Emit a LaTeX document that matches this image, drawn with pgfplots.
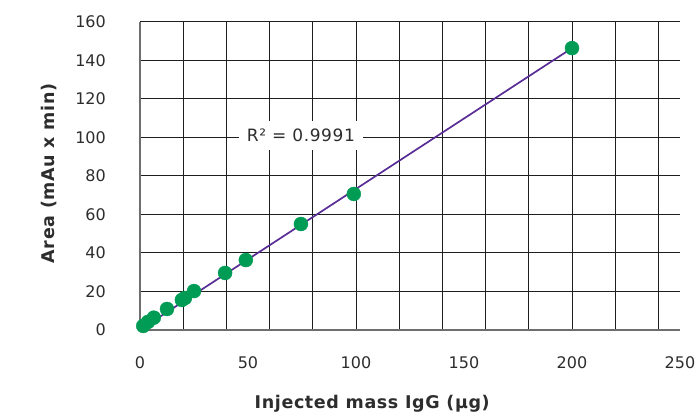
\documentclass[border=0pt]{standalone}
\usepackage{fontspec}
\setmainfont{DejaVu Sans}
\newfontfamily\widefont{DejaVu Sans}[LetterSpace=3.5]
\usepackage{pgfplots}
\pgfplotsset{compat=1.18}
\definecolor{dotgreen}{RGB}{0,155,85}
\definecolor{fitpurple}{RGB}{88,45,150}
\definecolor{gridgray}{RGB}{30,30,30}
\definecolor{axisgray}{RGB}{110,110,110}
\definecolor{txtgray}{RGB}{45,45,45}

\begin{document}
\begin{tikzpicture}
\begin{axis}[
    at={(0,0)}, anchor=south west,
    scale only axis,
    width=540bp, height=308.3bp,
    xmin=0, xmax=250, ymin=0, ymax=160,
    axis lines*=left,
    axis line style={-, axisgray, line width=1.8bp},
    xtick={0,50,...,250},
    ytick={0,20,...,160},
    minor xtick={20,40,...,240},
    xminorgrids, ymajorgrids,
    minor grid style={gridgray, line width=1bp},
    major grid style={gridgray, line width=1bp},
    major tick length=0pt, minor tick length=0pt,
    /pgf/number format/assume math mode=true,
    ticklabel style={font=\fontsize{16bp}{19bp}\selectfont, text=txtgray, inner sep=0pt},
    yticklabel style={anchor=east, xshift=-34bp},
    xticklabel style={anchor=north, yshift=-26bp},
    xlabel={Injected mass IgG (µg)},
    ylabel={Area (mAu x min)},
    label style={font=\fontsize{17.5bp}{20bp}\widefont\bfseries, text=txtgray},
    xlabel style={at={(axis description cs:0.43,-0.253)}, anchor=base},
    ylabel style={at={(axis description cs:-0.159,0.508)}, anchor=base},
    clip=false,
    ]
    % linear fit
    \addplot[fitpurple, line width=1.7bp] coordinates {(2,1.6) (200,146.3)};
    % measured points
    \addplot[only marks, mark=*, mark size=7bp, dotgreen, mark options={draw=dotgreen, fill=dotgreen}] coordinates {
        (1.5,2.1)
        (3.7,4.2)
        (6.4,6.4)
        (12.5,10.9)
        (19.4,15.6)
        (20.8,16.6)
        (25,20.2)
        (39.4,29.6)
        (49,36.3)
        (74.5,55.0)
        (99,70.6)
        (200,146.3) };
    \node[fill=white, inner xsep=8bp, inner ysep=8bp, text=txtgray,
          font=\fontsize{17bp}{20bp}\widefont] at (axis cs:74.5,101) {R² = 0.9991};
\end{axis}
\pgfresetboundingbox
\path[use as bounding box] (-140bp,-82bp) rectangle (555bp,330bp);
\end{tikzpicture}
\end{document}
